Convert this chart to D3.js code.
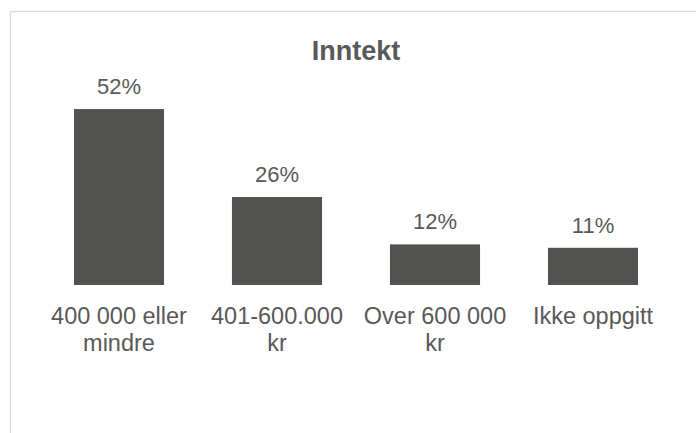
<!DOCTYPE html>
<html>
<head>
<meta charset="utf-8">
<script src="https://cdn.jsdelivr.net/npm/d3@7"></script>
<style>
  html, body { margin: 0; padding: 0; background: #fff; }
  svg { display: block; }
  text { font-family: "Liberation Sans", Arial, sans-serif; fill: #595959; }
</style>
</head>
<body>
<svg id="chart" width="696" height="433"></svg>
<script>
// Income distribution
const title = "Inntekt";
// "\n" marks where a category name breaks onto a second line
const categories = ["400 000 eller\nmindre", "401-600.000\nkr", "Over 600 000\nkr", "Ikke oppgitt"];
const values = [0.52, 0.26, 0.12, 0.11];

const svg = d3.select("#chart");

// chart area frame (continues past the right and bottom edges)
svg.append("rect")
  .attr("x", 10.5).attr("y", 11.5)
  .attr("width", 800).attr("height", 600)
  .attr("fill", "#fff")
  .attr("stroke", "#d9d9d9")
  .attr("stroke-width", 1.3);

const x = d3.scaleBand()
  .domain(categories)
  .range([40, 672])
  .paddingInner(0.43)
  .paddingOuter(0.215);

const y = d3.scaleLinear()
  .domain([0, 0.6])
  .range([285, 82]);

const fmt = d3.format(".0%");

// title
svg.append("text")
  .attr("x", 356).attr("y", 59.5)
  .attr("text-anchor", "middle")
  .style("font-size", "27px")
  .style("font-weight", "bold")
  .text(title);

// bars
svg.append("g").selectAll("rect")
  .data(values)
  .join("rect")
  .attr("x", (d, i) => x(categories[i]))
  .attr("y", d => y(d))
  .attr("width", x.bandwidth())
  .attr("height", d => y(0) - y(d))
  .attr("fill", "#525350");

// value labels
svg.append("g").selectAll("text")
  .data(values)
  .join("text")
  .attr("x", (d, i) => x(categories[i]) + x.bandwidth() / 2)
  .attr("y", d => y(d) - 15)
  .attr("text-anchor", "middle")
  .style("font-size", "22px")
  .text(d => fmt(d));

// category axis
const axis = svg.append("g")
  .attr("transform", `translate(0,${y(0)})`)
  .call(d3.axisBottom(x).tickSize(0).tickPadding(0));
axis.select(".domain").remove();

axis.selectAll(".tick text")
  .attr("y", 0).attr("dy", null)
  .attr("fill", "#595959")
  .style("font-size", "23.5px")
  .style("font-family", "'Liberation Sans', Arial, sans-serif")
  .each(function(label) {
    const t = d3.select(this).text(null);
    label.split("\n").forEach((l, i) => {
      t.append("tspan")
        .attr("x", 0)
        .attr("y", 39 + i * 27)
        .text(l);
    });
  });
</script>
</body>
</html>
